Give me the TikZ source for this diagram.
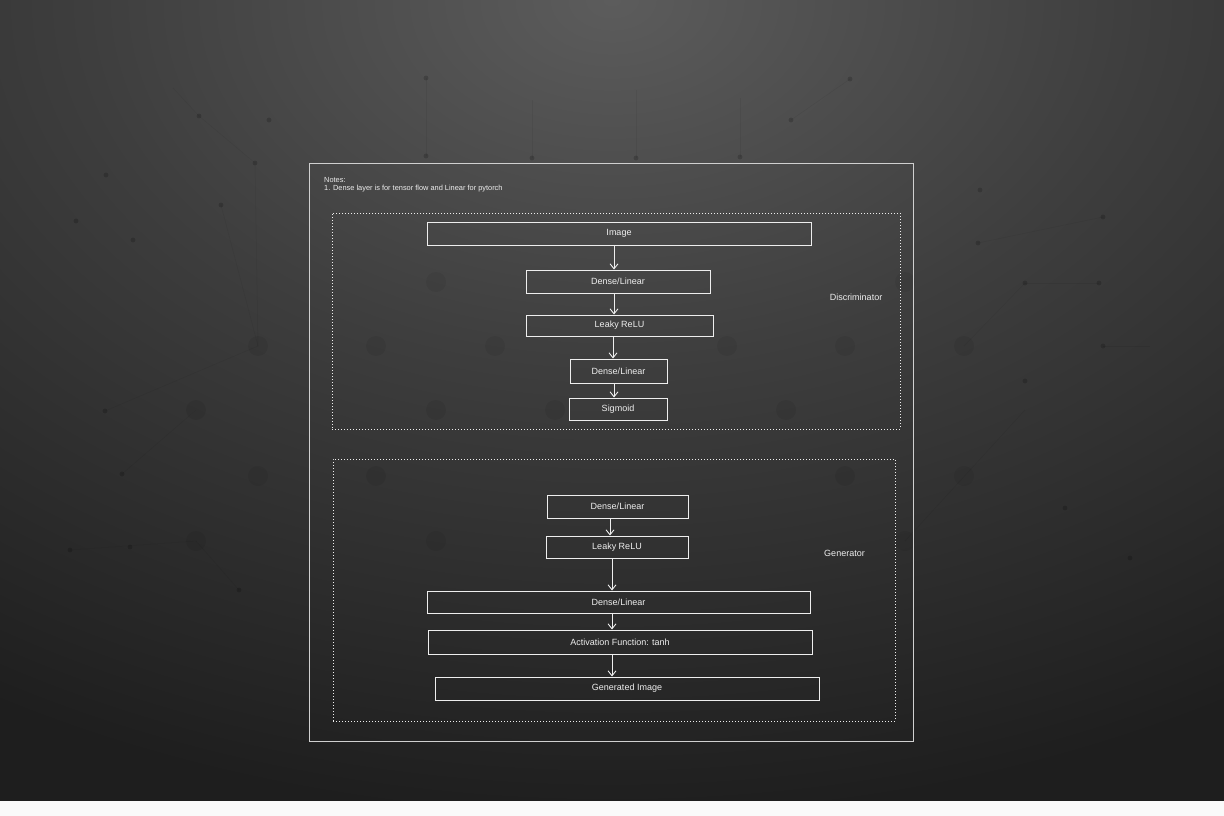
\documentclass[tikz,border=0pt]{standalone}
\usepackage{fontspec}
\setmainfont{Liberation Sans}
\usetikzlibrary{arrows.meta}
\definecolor{bgd}{HTML}{1E1E1E}
\definecolor{gmid}{HTML}{3E3E3E}
\definecolor{glow}{HTML}{5C5C5C}
\definecolor{ink}{HTML}{EEEEEE}
\definecolor{framec}{HTML}{D0D0D0}
\definecolor{strip}{HTML}{FAFAFA}
\pgfdeclareradialshading{topglow}{\pgfpoint{0bp}{0bp}}{color(0bp)=(glow); color(11bp)=(gmid); color(25bp)=(bgd); color(50bp)=(bgd)}
\tikzset{
  box/.style={draw=ink, line width=1pt, text=ink, rectangle, inner sep=0pt,
    font=\fontsize{9}{10}\selectfont},
  group/.style={draw=ink, line width=1pt, dash pattern=on 1pt off 2pt, rectangle, inner sep=0pt},
  lbl/.style={text=ink, font=\fontsize{9}{10}\selectfont, inner sep=0pt},
  arr/.style={draw=ink, line width=0.9pt, -{Straight Barb[length=5pt,width=8pt]}},
  bgdot/.style={fill=black, fill opacity=0.18},
  bgring/.style={fill=black, fill opacity=0.06},
  bgline/.style={draw=black, draw opacity=0.06, line width=0.5pt},
}
\begin{document}
\begin{tikzpicture}[x=1pt,y=-1pt]
\useasboundingbox (0,0) rectangle (1224,816);
\fill[bgd] (0,0) rectangle (1224,816);
\begin{scope}
\clip (0,0) rectangle (1224,801);
\shade[shading=topglow] (612,0) ellipse (1200pt and 820pt);
% faint background network
\foreach \a/\b/\c/\d in {426/78/426/156, 532/100/532/158, 636/90/636/158, 740/98/740/157, 791/120/850/79, 173/88/199/116, 199/116/255/163, 255/163/258/346, 221/205/258/346, 105/411/258/346, 70/550/196/541, 122/474/196/410, 1103/217/978/243, 1025/283/1099/283, 964/346/1025/283, 1103/346/1150/346, 1025/410/905/541, 239/590/196/541}
  \draw[bgline] (\a,\b) -- (\c,\d);
\foreach \x/\y in {426/78, 426/156, 532/158, 636/158, 740/157, 791/120, 850/79, 199/116, 269/120, 255/163, 106/175, 221/205, 76/221, 133/240, 980/190, 978/243, 1103/217, 1025/283, 1099/283, 1103/346, 1025/381, 105/411, 122/474, 70/550, 130/547, 239/590, 1065/508, 1130/558}
  \fill[bgdot] (\x,\y) circle (2.4pt);
\foreach \x/\y in {436/282, 376/346, 258/346, 495/346, 727/346, 845/346, 964/346, 196/410, 436/410, 786/410, 258/476, 376/476, 845/476, 196/541, 436/541, 905/541, 964/476, 905/282, 555/410}
  \fill[bgring] (\x,\y) circle (10pt);
\end{scope}
\fill[strip] (0,801) rectangle (1224,816);

% outer frame
\node[draw=framec, line width=1pt, rectangle, inner sep=0pt, minimum width=604pt, minimum height=578pt] (frame) at (611,452) {};
\node[anchor=north west, text=ink, align=left, inner sep=0pt, font=\fontsize{7.4}{8}\selectfont] (notes) at (324,177.5) {Notes:\\1. Dense layer is for tensor flow and Linear for pytorch};

% discriminator
\node[group, minimum width=568pt, minimum height=216pt] (disc) at (616,321) {};
\node[lbl] (discl) at (856,297) {Discriminator};
\node[box, minimum width=384pt, minimum height=23pt] (img) at (619,233.5) {Image};
\node[box, minimum width=184pt, minimum height=23pt] (d1) at (618,281.5) {Dense/Linear};
\node[box, minimum width=187pt, minimum height=21pt] (l1) at (619.5,325.5) {Leaky ReLU};
\node[box, minimum width=97pt, minimum height=24pt] (d2) at (618.5,371) {Dense/Linear};
\node[box, minimum width=98pt, minimum height=22pt] (sg) at (618,409) {Sigmoid};
\draw[arr] ([xshift=-5pt]img.south) -- ([xshift=-4pt]d1.north);
\draw[arr] ([xshift=-4pt]d1.south) -- ([xshift=-5.5pt]l1.north);
\draw[arr] ([xshift=-6.5pt]l1.south) -- ([xshift=-5.5pt]d2.north);
\draw[arr] ([xshift=-4.5pt]d2.south) -- ([xshift=-4pt]sg.north);

% generator
\node[group, minimum width=562pt, minimum height=262pt] (genb) at (614,590) {};
\node[lbl] (genl) at (844.5,553) {Generator};
\node[box, minimum width=141pt, minimum height=23pt] (gd1) at (617.5,506.5) {Dense/Linear};
\node[box, minimum width=142pt, minimum height=22pt] (gl1) at (617,547) {Leaky ReLU};
\node[box, minimum width=383pt, minimum height=22pt] (gd2) at (618.5,602) {Dense/Linear};
\node[box, minimum width=384pt, minimum height=24pt] (act) at (620,642) {Activation Function: tanh};
\node[box, minimum width=384pt, minimum height=23pt] (gen) at (627,688.5) {Generated Image};
\draw[arr] ([xshift=-7.5pt]gd1.south) -- ([xshift=-7pt]gl1.north);
\draw[arr] ([xshift=-5pt]gl1.south) -- ([xshift=-6.5pt]gd2.north);
\draw[arr] ([xshift=-6.5pt]gd2.south) -- ([xshift=-8pt]act.north);
\draw[arr] ([xshift=-8pt]act.south) -- ([xshift=-15pt]gen.north);
\end{tikzpicture}
\end{document}
